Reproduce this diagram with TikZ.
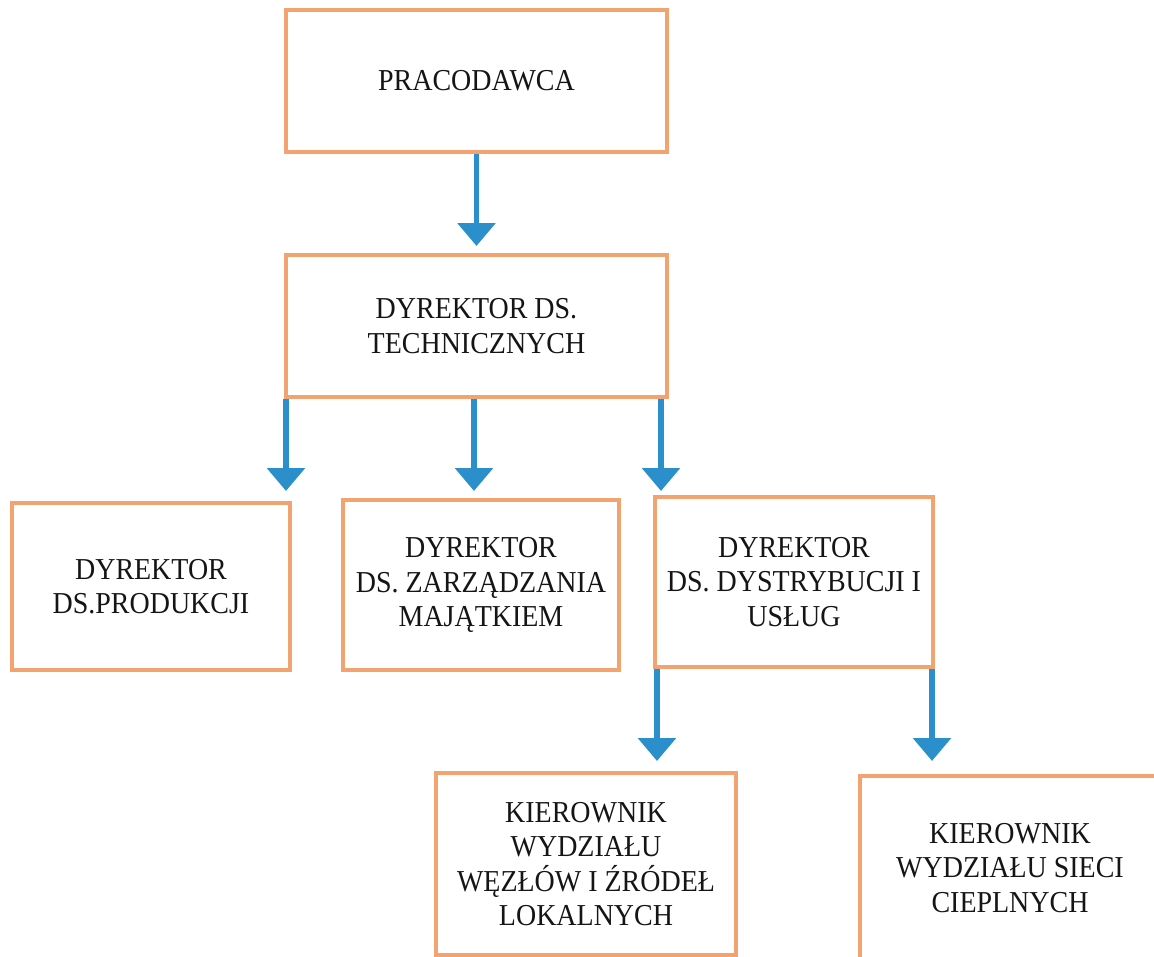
\documentclass[tikz,border=0pt]{standalone}
\usepackage{fontspec}
\setmainfont{Liberation Serif}[FakeStretch=0.92]
\usetikzlibrary{arrows.meta,calc}
\definecolor{boxorange}{HTML}{F2A36F}
\definecolor{arrblue}{HTML}{2B8FCC}
\definecolor{txt}{HTML}{151515}
\tikzset{
  orgbox/.style={draw=boxorange, line width=2.3pt, fill=white, align=center,
    text=txt, font=\fontsize{17.3}{19.6}\selectfont, inner sep=0pt},
  lbl/.style={align=center, text=txt, font=\fontsize{17.3}{19.6}\selectfont, inner sep=0pt},
  arr/.style={draw=arrblue, line width=3.4pt,
    -{Triangle[length=13pt,width=21pt]}, arrblue}
}
\begin{document}
\begin{tikzpicture}
\clip (0,0) rectangle (23.08,-19.14);
\fill[white] (0,0) rectangle (23.08,-19.14);

\node[orgbox, minimum width=7.62cm, minimum height=2.84cm] (pr) at (9.53,-1.62) {PRACODAWCA};
\node[orgbox, minimum width=7.62cm, minimum height=2.84cm] (tech) at (9.53,-6.52) {DYREKTOR DS.\\TECHNICZNYCH};
\node[orgbox, minimum width=5.56cm, minimum height=3.34cm] (prod) at (3.02,-11.73) {DYREKTOR\\DS.PRODUKCJI};
\node[orgbox, minimum width=5.52cm, minimum height=3.40cm] (zarz) at (9.62,-11.70) {DYREKTOR\\DS. ZARZĄDZANIA\\MAJĄTKIEM};
\node[orgbox, minimum width=5.56cm, minimum height=3.40cm] (dyst) at (15.88,-11.64) {DYREKTOR\\DS. DYSTRYBUCJI I\\USŁUG};
\node[orgbox, minimum width=6.0cm, minimum height=3.64cm] (wez) at (11.72,-17.28) {KIEROWNIK\\WYDZIAŁU\\WĘZŁÓW I ŹRÓDEŁ\\LOKALNYCH};
\node[orgbox, minimum width=6.0cm, minimum height=4.2cm] (siec) at (20.2,-17.62) {};
\node[lbl] (sieclbl) at (20.2,-17.36) {KIEROWNIK\\WYDZIAŁU SIECI\\CIEPLNYCH};

\draw[arr, shorten >=0.14cm] (pr.south) -- (tech.north);
\draw[arr, shorten >=0.2cm] ([xshift=0.04cm]tech.south west) -- ([xshift=0.04cm]tech.south west |- prod.north);
\draw[arr, shorten >=0.14cm] ([xshift=-0.05cm]tech.south) -- ([xshift=-0.05cm]tech.south |- zarz.north);
\draw[arr, shorten >=0.08cm] ([xshift=-0.16cm]tech.south east) -- ([xshift=-0.16cm]tech.south east |- dyst.north);
\draw[arr, shorten >=0.2cm] ([xshift=0.08cm]dyst.south west) -- ([xshift=0.08cm]dyst.south west |- wez.north);
\draw[arr, shorten >=0.26cm] ([xshift=-0.06cm]dyst.south east) -- ([xshift=-0.06cm]dyst.south east |- siec.north);
\end{tikzpicture}
\end{document}
